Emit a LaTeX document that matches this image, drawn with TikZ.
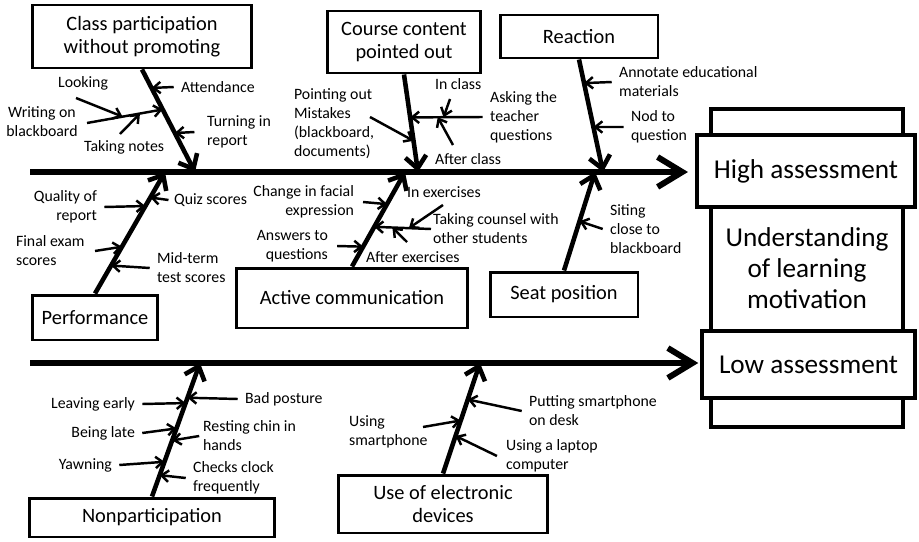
\documentclass[tikz,border=0pt]{standalone}
\usepackage{fontspec}
\setmainfont{Carlito}
\usetikzlibrary{arrows.meta,calc}

\tikzset{
  spine/.style={line width=3.4pt, -{Straight Barb[length=14pt,width=17pt]}},
  bone/.style={line width=2.6pt, -{Straight Barb[length=7pt,width=12pt]}},
  twig/.style={line width=1.4pt, -{Straight Barb[length=4pt,width=6.5pt]}},
  cat/.style={draw, line width=1.7pt, fill=white, align=center, inner sep=0pt, font=\fontsize{11.6}{13.2}\selectfont},
  goal/.style={draw, line width=2.3pt, fill=white, align=center, inner sep=0pt, font=\fontsize{15.5}{17.6}\selectfont},
  lbl/.style={inner sep=1pt, font=\fontsize{9}{10.8}\selectfont},
}

\begin{document}
\begin{tikzpicture}[x=0.02cm,y=-0.02cm]
  \useasboundingbox (0,0) rectangle (919,541);

  % effect side
  \node[goal, minimum width=3.84cm, minimum height=6.36cm] (motiv) at (807,268) {Understanding\\of learning\\motivation};
  \node[goal, minimum width=4.36cm, minimum height=1.44cm] (high) at (806,171) {High assessment};
  \node[goal, minimum width=4.26cm, minimum height=1.34cm] (low) at (808.5,364.5) {Low assessment};

  % spines
  \coordinate (s1) at (30,172);
  \coordinate (s2) at (30,363);
  \draw[spine, shorten >=4pt] (s1) -- (s1 -| high.west);
  \draw[spine, shorten >=1pt] (s2) -- (s2 -| low.west);

  \coordinate (t1) at (195,172);
  \coordinate (t2) at (418,172);
  \coordinate (t3) at (603,172);
  \coordinate (t4) at (165,172);
  \coordinate (t5) at (405,172);
  \coordinate (t6) at (595,172);
  \coordinate (t7) at (200,363);
  \coordinate (t8) at (480,363);

  % categories
  \node[cat, minimum width=4.4cm, minimum height=1.26cm] (cls) at (142,36.5) {Class participation\\without promoting};
  \node[cat, minimum width=3.08cm, minimum height=1.24cm] (cc) at (404,42) {Course content\\pointed out};
  \node[cat, minimum width=3.16cm, minimum height=0.86cm] (react) at (579,36.5) {Reaction};
  \node[cat, minimum width=2.52cm, minimum height=0.9cm] (perf) at (95,317.5) {Performance};
  \node[cat, minimum width=4.64cm, minimum height=1.2cm] (act) at (352,298) {Active communication};
  \node[cat, minimum width=2.96cm, minimum height=0.9cm] (seat) at (564,294.5) {Seat position};
  \node[cat, minimum width=4.92cm, minimum height=0.78cm] (nonp) at (152,517.5) {Nonparticipation};
  \node[cat, minimum width=4.2cm, minimum height=1.16cm] (elec) at (443,504) {Use of electronic\\devices};

  \draw[bone] (cls.south) -- (t1);
  \draw[bone] (cc.south) -- (t2);
  \draw[bone] (react.south) -- (t3);
  \draw[bone] (perf.north) -- (t4);
  \draw[bone] (act.north) -- (t5);
  \draw[bone] (seat.north) -- (t6);
  \draw[bone] (nonp.north) -- (t7);
  \draw[bone] (elec.north) -- (t8);

  % class participation
  \node[lbl, anchor=west] (att) at (179,87) {Attendance};
  \node[lbl, anchor=west, align=left] (trn) at (205,132) {Turning in\\report};
  \node[lbl, align=center] (wob) at (42,122) {Writing on\\blackboard};
  \node[lbl, anchor=west] (look) at (56,83) {Looking};
  \node[lbl, anchor=west] (note) at (82,147) {Taking notes};
  \coordinate (wt) at (87,123);
  \coordinate (wh) at ($(cls.south)!0.39!(t1)$);
  \coordinate (lt) at (76,98);
  \coordinate (nt) at (120,134);
  \draw[twig] ([xshift=-3pt]att.west) -- ($(cls.south)!0.18!(t1)$);
  \draw[twig] ([xshift=-6pt]trn.west) -- ($(cls.south)!0.62!(t1)$);
  \draw[twig] (wt) -- (wh);
  \draw[twig] (lt) -- ($(wt)!0.47!(wh)$);
  \draw[twig] (nt) -- ($(wt)!0.70!(wh)$);

  % course content
  \node[lbl, anchor=west, align=left] (pnt) at (292,124) {Pointing out\\Mistakes\\(blackboard,\\documents)};
  \node[lbl, anchor=west, align=left] (ask) at (488,117) {Asking the\\teacher\\questions};
  \node[lbl, anchor=west] (incl) at (433,84) {In class};
  \node[lbl, anchor=west] (aftcl) at (433,159) {After class};
  \coordinate (pt) at (370,117);
  \coordinate (at) at ([xshift=-3pt]ask.west);
  \coordinate (ah) at ($(cc.south)!0.44!(t2)$);
  \coordinate (it) at (450,99);
  \coordinate (ft) at (453,145);
  \draw[twig] (pt) -- ($(cc.south)!0.68!(t2)$);
  \draw[twig] (at) -- (ah);
  \draw[twig] (it) -- ($(at)!0.54!(ah)$);
  \draw[twig] (ft) -- ($(at)!0.62!(ah)$);

  % reaction
  \node[lbl, anchor=west, align=left] (ann) at (617,82) {Annotate educational\\materials};
  \node[lbl, anchor=west, align=left] (nod) at (629,127) {Nod to\\question};
  \draw[twig] ([xshift=-3pt]ann.west) -- ($(react.south)!0.21!(t3)$);
  \draw[twig] ([xshift=-3pt]nod.west) -- ($(react.south)!0.6!(t3)$);

  % performance
  \node[lbl, anchor=east, align=right] (qual) at (99,207) {Quality of\\report};
  \node[lbl, anchor=west] (quiz) at (172,200) {Quiz scores};
  \node[lbl, anchor=west, align=left] (fin) at (14,251) {Final exam\\scores};
  \node[lbl, anchor=west, align=left] (mid) at (155,268) {Mid-term\\test scores};
  \coordinate (et) at (95,251);
  \draw[twig] ([xshift=3pt]qual.east) -- ($(perf.north)!0.72!(t4)$);
  \draw[twig] ([xshift=-2pt]quiz.west) -- ($(perf.north)!0.79!(t4)$);
  \draw[twig] (et) -- ($(perf.north)!0.385!(t4)$);
  \draw[twig] ([xshift=-3pt]mid.west) -- ($(perf.north)!0.23!(t4)$);

  % active communication
  \node[lbl, anchor=east, align=right] (chg) at (356,202) {Change in facial\\expression};
  \node[lbl, anchor=west] (inex) at (405,192) {In exercises};
  \node[lbl, anchor=west, align=left] (tcs) at (431,229) {Taking counsel with\\other students};
  \node[lbl, anchor=west] (aftex) at (364,257) {After exercises};
  \node[lbl, anchor=east, align=right] (ans) at (330,246) {Answers to\\questions};
  \coordinate (kt) at (tcs.west);
  \coordinate (kh) at ($(act.north)!0.42!(t5)$);
  \coordinate (xt) at (443,205);
  \coordinate (yt) at (407,242);
  \draw[twig] ([xshift=4pt]chg.east) -- ($(act.north)!0.66!(t5)$);
  \draw[twig] (kt) -- (kh);
  \draw[twig] (xt) -- ($(kt)!0.39!(kh)$);
  \draw[twig] (yt) -- ($(kt)!0.68!(kh)$);
  \draw[twig] ([xshift=4pt]ans.east) -- ($(act.north)!0.21!(t5)$);

  % seat position
  \node[lbl, anchor=west, align=left] (sit) at (608,229) {Siting\\close to\\blackboard};
  \draw[twig] ([xshift=-3pt]sit.west) -- ($(seat.north)!0.5!(t6)$);

  % nonparticipation
  \node[lbl, anchor=east] (lve) at (137,404) {Leaving early};
  \node[lbl, anchor=west] (bad) at (243,399) {Bad posture};
  \node[lbl, anchor=east] (late) at (137,433) {Being late};
  \node[lbl, anchor=west, align=left] (rst) at (201,436) {Resting chin in\\hands};
  \node[lbl, anchor=east] (yawn) at (114,465) {Yawning};
  \node[lbl, anchor=west, align=left] (chk) at (191,478) {Checks clock\\frequently};
  \draw[twig] ([xshift=3pt]lve.east) -- ($(nonp.north)!0.70!(t7)$);
  \draw[twig] ([xshift=-3pt]bad.west) -- ($(nonp.north)!0.74!(t7)$);
  \draw[twig] ([xshift=3pt]late.east) -- ($(nonp.north)!0.51!(t7)$);
  \draw[twig] ([xshift=-1pt]rst.west) -- ($(nonp.north)!0.42!(t7)$);
  \draw[twig] ([xshift=3pt]yawn.east) -- ($(nonp.north)!0.26!(t7)$);
  \draw[twig] ([xshift=-3pt]chk.west) -- ($(nonp.north)!0.16!(t7)$);

  % electronic devices
  \node[lbl, anchor=west, align=left] (put) at (527,411) {Putting smartphone\\on desk};
  \node[lbl, anchor=west, align=left] (usp) at (347,432) {Using\\smartphone};
  \node[lbl, anchor=west, align=left] (lap) at (504,456) {Using a laptop\\computer};
  \coordinate (ut) at (423,427);
  \draw[twig] ([xshift=-3pt]put.west) -- ($(elec.north)!0.67!(t8)$);
  \draw[twig] (ut) -- ($(elec.north)!0.48!(t8)$);
  \draw[twig] ([xshift=-4pt]lap.west) -- ($(elec.north)!0.34!(t8)$);
\end{tikzpicture}
\end{document}
